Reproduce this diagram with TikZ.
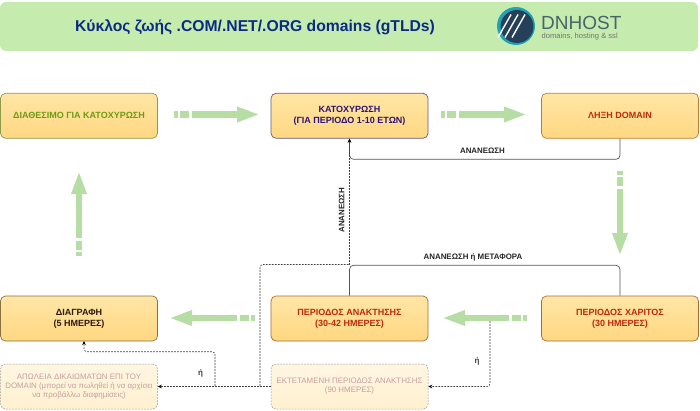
\documentclass[tikz,border=0pt]{standalone}
\usepackage{fontspec}
\setmainfont{Liberation Sans}
\usetikzlibrary{arrows.meta,calc}
\definecolor{hdr}{HTML}{C6EBAF}
\definecolor{blk}{HTML}{B5DDA4}
\definecolor{boxtop}{HTML}{FFE6A6}
\definecolor{boxbot}{HTML}{FFD781}
\definecolor{fadetop}{HTML}{FFF6E2}
\definecolor{fadebot}{HTML}{FFF0CF}
\definecolor{fadetxt}{HTML}{C49F9F}
\definecolor{navy}{HTML}{0B2A85}
\definecolor{gtxt}{HTML}{6E9A14}
\definecolor{ptxt}{HTML}{2A1278}
\definecolor{rtxt}{HTML}{BE2A0C}
\definecolor{dtxt}{HTML}{2A1A10}
\definecolor{conn}{HTML}{555555}
\definecolor{logod}{HTML}{27405A}
\definecolor{logot}{HTML}{1FA3B5}
\definecolor{logoc}{HTML}{4A6468}
\definecolor{bdA}{HTML}{8E9A4A}
\definecolor{bdB}{HTML}{6A5A7A}
\definecolor{bdC}{HTML}{C07A3A}
\definecolor{bdD}{HTML}{8A7040}
\definecolor{bdE}{HTML}{A86A38}
\tikzset{
  x=1pt,y=-1pt,
  box/.style={draw,line width=0.7pt,rounded corners=5pt,minimum width=157pt,minimum height=45pt,inner sep=0pt,
    top color=boxtop,bottom color=boxbot,align=center,font=\fontsize{9}{11.3}\selectfont\bfseries},
  fade/.style={draw=black!40,dash pattern=on 1.8pt off 1.2pt,line width=0.5pt,rounded corners=5pt,minimum width=157pt,minimum height=45pt,inner sep=0pt,
    top color=fadetop,bottom color=fadebot,align=center,text=fadetxt,font=\fontsize{7.9}{9}\selectfont},
  blockarrow/.style={draw=blk,line width=6.4pt,dash pattern=on 4pt off 2pt on 9pt off 3pt on 300pt,
    -{Triangle[length=23pt,width=14pt,fill=blk]}},
  solidlink/.style={draw=conn,line width=0.7pt,rounded corners=4pt},
  dashlink/.style={draw=black!75,line width=0.6pt,dash pattern=on 1.8pt off 1.2pt,rounded corners=3pt},
  tip/.style={-{Stealth[length=4pt,width=3.5pt,black]}},
  lbl/.style={inner sep=0pt,font=\fontsize{7.9}{9}\selectfont\bfseries,text=black!85},
  orlbl/.style={inner sep=0pt,font=\fontsize{8}{9}\selectfont\bfseries,text=black!75}
}
\begin{document}
\begin{tikzpicture}
\useasboundingbox (0,0) rectangle (700,410);
\fill[white] (0,0) rectangle (700,410);
% header
\fill[hdr,rounded corners=6pt] (0,2) rectangle (698,51);
\node[inner sep=0pt,text=navy,font=\fontsize{15.7}{17}\selectfont\bfseries] (title) at (255,27.5) {Κύκλος ζωής .COM/.NET/.ORG domains (gTLDs)};
% logo
\fill[logot] (516,26) circle (19);
\fill[logod] (517,26.5) circle (16.5);
\foreach \d in {-7,0,7}{
  \draw[white,line width=1.4pt] ($(511.5,26)+(\d,0)+(-6.5,11.5)$) -- ($(511.5,26)+(\d,0)+(6.5,-11.5)$);
}
\node[inner sep=0pt,anchor=west,text=logoc,font=\fontsize{19}{20}\selectfont] (logotxt) at (541,22.5) {DNHOST};
\node[inner sep=0pt,anchor=west,text=black!55,font=\fontsize{7.6}{8}\selectfont] (logosub) at (541.5,37) {domains, hosting \& ssl};
% boxes
\node[box,draw=bdA,text=gtxt] (A) at (79,115.8) {ΔΙΑΘΕΣΙΜΟ ΓΙΑ ΚΑΤΟΧΥΡΩΣΗ};
\node[box,draw=bdB,text=ptxt] (B) at (349.5,115.8) {ΚΑΤΟΧΥΡΩΣΗ\\(ΓΙΑ ΠΕΡΙΟΔΟ 1-10 ΕΤΩΝ)};
\node[box,draw=bdC,text=rtxt] (C) at (620,115.8) {ΛΗΞΗ DOMAIN};
\node[box,draw=bdD,text=dtxt] (D) at (79,318.5) {ΔΙΑΓΡΑΦΗ\\(5 ΗΜΕΡΕΣ)};
\node[box,draw=bdE,text=rtxt] (E) at (349.5,318.5) {ΠΕΡΙΟΔΟΣ ΑΝΑΚΤΗΣΗΣ\\(30-42 ΗΜΕΡΕΣ)};
\node[box,draw=bdE,text=rtxt] (F) at (620,318.5) {ΠΕΡΙΟΔΟΣ ΧΑΡΙΤΟΣ\\(30 ΗΜΕΡΕΣ)};
\node[fade] (G) at (79,386.5) {ΑΠΩΛΕΙΑ ΔΙΚΑΙΩΜΑΤΩΝ ΕΠΙ ΤΟΥ\\DOMAIN (μπορεί να πωληθεί ή να αρχίσει\\να προβάλλω διαφημίσεις)};
\node[fade] (H) at (349.5,386.5) {ΕΚΤΕΤΑΜΕΝΗ ΠΕΡΙΟΔΟΣ ΑΝΑΚΤΗΣΗΣ\\(90 ΗΜΕΡΕΣ)};
% free ends of the block arrows
\coordinate (ab1) at (174,114.5); \coordinate (ab2) at (260,114.5);
\coordinate (bc1) at (441,114.5); \coordinate (bc2) at (527,114.5);
\coordinate (cf1) at (620,171);   \coordinate (cf2) at (620,256);
\coordinate (fe1) at (527,318);   \coordinate (fe2) at (442,318);
\coordinate (ed1) at (255,318);   \coordinate (ed2) at (169,318);
\coordinate (da1) at (79,256);    \coordinate (da2) at (79,171);
\draw[blockarrow] (ab1) -- (ab2);
\draw[blockarrow] (bc1) -- (bc2);
\draw[blockarrow] (cf1) -- (cf2);
\draw[blockarrow] (fe1) -- (fe2);
\draw[blockarrow] (ed1) -- (ed2);
\draw[blockarrow] (da1) -- (da2);
% solid renewal links
\draw[solidlink,tip] (C.south) |- (349.5,159.3) -- (B.south);
\draw[solidlink] (F.north) |- (349.5,265.3) -- (E.north);
% dashed links
\coordinate (dsplit) at (215,386);
\coordinate (dtarget) at (84,341);
\coordinate (hsplit) at (260,386);
\coordinate (fsplit) at (490,321);
\draw[dashlink,tip] (H.west) -- (G.east);
\draw[dashlink] (hsplit) |- (349.5,264.5);
\draw[dashlink,tip] (349.5,264.5) -- (B.south);
\draw[dashlink,tip] (dsplit) |- (84,351.7) -- (dtarget);
\draw[dashlink,tip] (fsplit) |- (H.east);
% labels
\node[lbl] (l1) at (482.5,151) {ΑΝΑΝΕΩΣΗ};
\node[lbl] (l2) at (473,257) {ΑΝΑΝΕΩΣΗ ή ΜΕΤΑΦΟΡΑ};
\node[lbl,rotate=90] (l3) at (341.5,210) {ΑΝΑΝΕΩΣΗ};
\node[orlbl] (l4) at (200.5,373) {ή};
\node[orlbl] (l5) at (477,361) {ή};
\end{tikzpicture}
\end{document}
